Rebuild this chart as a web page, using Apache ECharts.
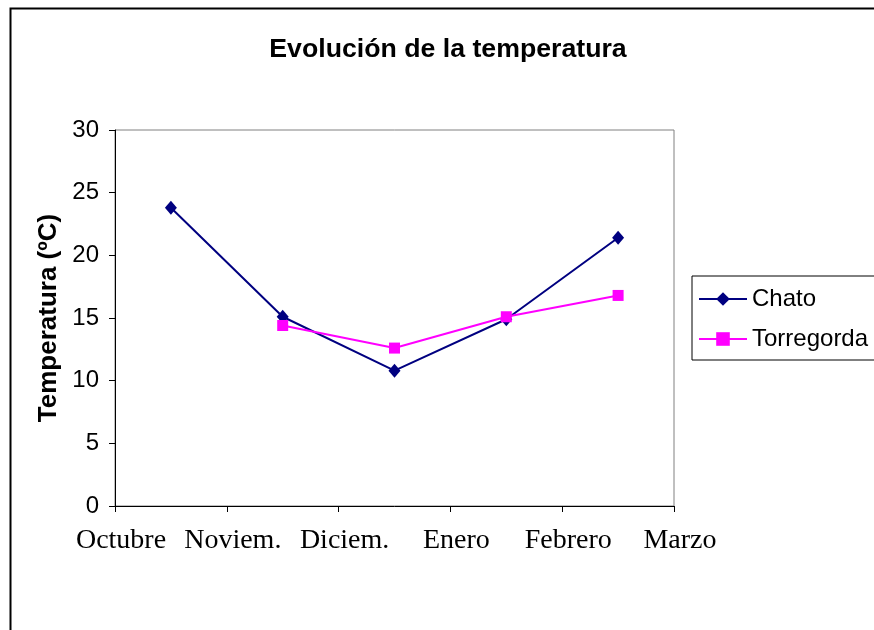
<!DOCTYPE html>
<html>
<head>
<meta charset="utf-8">
<style>
  html, body { margin: 0; padding: 0; background: #ffffff; }
  #chart { width: 874px; height: 630px; }
</style>
<script src="https://cdn.jsdelivr.net/npm/echarts@6/dist/echarts.min.js"></script>
</head>
<body>
<div id="chart"></div>
<script>
// Month labels sit on the boundaries between the monthly intervals
const months = ['Octubre', 'Noviem.', 'Diciem.', 'Enero', 'Febrero', 'Marzo'];
// Mean temperature (ºC) for each interval, Oct–Feb
const chato = [23.8, 15.1, 10.8, 14.9, 21.4];
const torregorda = [null, 14.4, 12.6, 15.1, 16.8];
const yTicks = [0, 5, 10, 15, 20, 25, 30];

// each value is placed in the middle of its month interval
function toPoints(values) {
  const pts = [];
  values.forEach(function (v, i) {
    if (v !== null) pts.push([i + 0.5, v]);
  });
  return pts;
}

const chart = echarts.init(document.getElementById('chart'), null, { renderer: 'canvas' });

chart.setOption({
  animation: false,
  backgroundColor: '#ffffff',
  graphic: [{
    type: 'rect',
    left: 8, top: 6,
    shape: { width: 900, height: 700 },
    style: { fill: 'none', stroke: '#000000', lineWidth: 2 },
    silent: true
  }],
  title: {
    text: 'Evolución de la temperatura',
    left: 443, top: 31,
    textAlign: 'center',
    textStyle: { fontFamily: 'Liberation Sans', fontWeight: 'bold', fontSize: 26.7, color: '#000000' }
  },
  legend: {
    orient: 'vertical',
    left: 692, top: 276,
    padding: [11, 10, 9, 6],
    itemGap: 16,
    itemWidth: 48,
    itemHeight: 17,
    borderColor: '#000000',
    borderWidth: 1,
    textStyle: { fontFamily: 'Liberation Sans', fontSize: 24, color: '#000000' },
    data: ['Chato', 'Torregorda']
  },
  grid: {
    left: 115, right: 200, top: 130, bottom: 124,
    show: true,
    borderColor: '#808080',
    borderWidth: 1,
    backgroundColor: '#ffffff'
  },
  xAxis: {
    type: 'value',
    min: 0, max: months.length - 1, interval: 1,
    axisLine: { show: true, lineStyle: { color: '#000000', width: 1 } },
    axisTick: { show: true, length: 6, lineStyle: { color: '#000000' } },
    splitLine: { show: false },
    axisLabel: {
      margin: 21,
      fontFamily: 'Liberation Serif',
      fontSize: 28,
      color: '#000000',
      padding: [0, 0, 0, 12],
      formatter: function (v) { return months[v] || ''; }
    }
  },
  yAxis: {
    type: 'value',
    min: yTicks[0], max: yTicks[yTicks.length - 1], interval: 5,
    name: 'Temperatura (ºC)',
    nameLocation: 'middle',
    nameRotate: 90,
    nameGap: 53,
    nameTextStyle: { fontFamily: 'Liberation Sans', fontWeight: 'bold', fontSize: 26, color: '#000000' },
    axisLine: { show: true, lineStyle: { color: '#000000', width: 1 } },
    axisTick: { show: true, length: 6, lineStyle: { color: '#000000' } },
    splitLine: { show: false },
    axisLabel: {
      margin: 16,
      fontFamily: 'Liberation Sans',
      fontSize: 24,
      color: '#000000'
    }
  },
  series: [
    {
      name: 'Chato',
      type: 'line',
      data: toPoints(chato),
      symbol: 'diamond',
      symbolSize: [12, 14],
      showAllSymbol: true,
      lineStyle: { color: '#000080', width: 2 },
      itemStyle: { color: '#000080' },
      z: 3
    },
    {
      name: 'Torregorda',
      type: 'line',
      data: toPoints(torregorda),
      symbol: 'rect',
      symbolSize: 11,
      showAllSymbol: true,
      lineStyle: { color: '#FF00FF', width: 2 },
      itemStyle: { color: '#FF00FF' },
      z: 4
    }
  ]
});
</script>
</body>
</html>
